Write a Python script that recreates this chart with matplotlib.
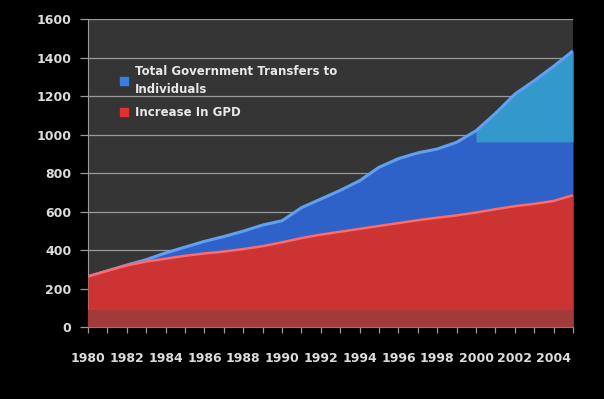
import matplotlib
matplotlib.use('Agg')
import matplotlib.pyplot as plt
from matplotlib.lines import Line2D
import numpy as np

# data
years = list(range(1980, 2006))
gdp_increase = [262, 292, 320, 340, 355, 370, 382, 392, 405, 420, 440, 462, 480,
                495, 510, 525, 540, 555, 568, 580, 595, 612, 628, 640, 655, 685]
transfers = [262, 292, 322, 350, 385, 415, 445, 470, 498, 530, 552, 620, 665,
             710, 760, 830, 875, 905, 925, 960, 1020, 1110, 1210, 1280, 1355, 1435]
y_ticks = [0, 200, 400, 600, 800, 1000, 1200, 1400, 1600]
x_labels = list(range(1980, 2005, 2))

bg = '#000000'
panel = '#353535'
txt = '#dcdcdc'

fig = plt.figure(figsize=(6.04, 3.99), dpi=100, facecolor=bg)
ax = fig.add_axes([0.1457, 0.1805, 0.8030, 0.7715])
ax.set_facecolor(panel)

yrs = np.array(years)
tr = np.array(transfers)
gd = np.array(gdp_increase)

# blue area behind, red in front
ax.fill_between(yrs, 0, tr, color='#2f62c8', lw=0, zorder=2)
late = yrs >= 2000
ax.fill_between(yrs[late], 962, tr[late], color='#3399cc', lw=0, zorder=2.5)
ax.plot(yrs, tr, color='#5fa0f0', lw=2.2, zorder=3, solid_capstyle='butt')
ax.fill_between(yrs, 0, gd, color='#cc3333', lw=0, zorder=4)
ax.fill_between(yrs, 0, np.minimum(gd, 90), color='#a33a3a', lw=0, zorder=4.5)
ax.plot(yrs, gd, color='#ff6a6a', lw=1.8, zorder=5, solid_capstyle='butt')

ax.set_xlim(1980, 2005)
ax.set_ylim(0, 1600)
ax.set_yticks(y_ticks)
ax.set_yticklabels([str(v) for v in y_ticks], color=txt, fontsize=9, fontweight='bold')
ax.set_xticks(x_labels)
ax.set_xticklabels([str(v) for v in x_labels], color=txt, fontsize=9, fontweight='bold')
ax.set_xticks(years, minor=True)
ax.yaxis.grid(True, color='#9a9a9a', lw=0.9, zorder=1)
ax.set_axisbelow(True)
ax.tick_params(axis='y', colors='#9a9a9a', length=6, width=0.9, pad=6, labelcolor=txt)
ax.tick_params(axis='x', which='both', colors='#9a9a9a', length=4, width=0.9,
               labelcolor=txt, pad=14)
for s in ['top', 'right']:
    ax.spines[s].set_visible(False)
ax.spines['left'].set_color('#9a9a9a')
ax.spines['bottom'].set_color('#9a9a9a')

handles = [Line2D([], [], marker='s', ls='none', color='#3a7de0', markersize=6),
           Line2D([], [], marker='s', ls='none', color='#e03030', markersize=6)]
leg = ax.legend(handles, ['Total Government Transfers to\nIndividuals', 'Increase In GPD'],
                loc='upper left', bbox_to_anchor=(0.045, 0.885), frameon=False,
                handlelength=0.6, handletextpad=0.6, labelspacing=0.9,
                prop={'size': 8.5, 'weight': 'bold'})
for t in leg.get_texts():
    t.set_color('#e8e8e8')
    t.set_linespacing(1.45)

fig.savefig('out.png', dpi=100, facecolor=bg)
